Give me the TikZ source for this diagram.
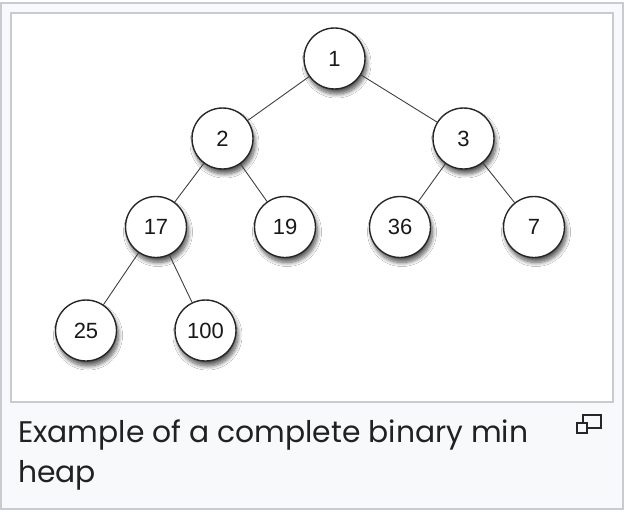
\documentclass[tikz,border=0pt]{standalone}
\usepackage{fontspec}
\setmainfont{Liberation Sans}
\newfontfamily\capfont{Poppins}
\usetikzlibrary{shadows.blur}
\definecolor{bordergray}{HTML}{C8CCD1}
\definecolor{capbg}{HTML}{F8F9FA}
\definecolor{ink}{HTML}{202122}
\begin{document}
\begin{tikzpicture}[x=1pt,y=-1pt,
  heapnode/.style={circle, draw=black!85, line width=1.4pt, fill=white,
    minimum size=61pt, inner sep=0pt, font=\fontsize{22}{22}\selectfont, text=black!90,
    blur shadow={shadow xshift=2pt, shadow yshift=-5pt, shadow blur radius=4pt,
      shadow blur steps=10, shadow opacity=65}},
  heapedge/.style={draw=black!75, line width=0.9pt},
  captext/.style={anchor=base west, inner sep=0pt, text=ink,
    font=\capfont\fontsize{29.8}{29.8}\selectfont},
  iconbox/.style={draw=black!85, line width=1.5pt, fill=capbg}]
\useasboundingbox (0,0) rectangle (628,516);
\fill[white] (0,0) rectangle (628,516);
\draw[bordergray, fill=capbg, line width=2pt] (1,3) rectangle (623,509);
\draw[bordergray, fill=white, line width=2pt] (11,13) rectangle (613,402);

\node[heapnode] (n1) at (334.5,58.5) {1};
\node[heapnode] (n2) at (222.5,138.5) {2};
\node[heapnode] (n3) at (463.5,138.5) {3};
\node[heapnode] (n17) at (156,227) {17};
\node[heapnode] (n19) at (285,227) {19};
\node[heapnode] (n36) at (400,227) {36};
\node[heapnode] (n7) at (534,227) {7};
\node[heapnode] (n25) at (86,330.5) {25};
\node[heapnode] (n100) at (205.5,330.5) {100};

\draw[heapedge] (n1) -- (n2);
\draw[heapedge] (n1) -- (n3);
\draw[heapedge] (n2) -- (n17);
\draw[heapedge] (n2) -- (n19);
\draw[heapedge] (n3) -- (n36);
\draw[heapedge] (n3) -- (n7);
\draw[heapedge] (n17) -- (n25);
\draw[heapedge] (n17) -- (n100);

\node[captext] (cap1) at (18,442) {Example of a complete binary min};
\node[captext] (cap2) at (18,482) {heap};

\draw[iconbox] (583,415) rectangle (601,428);
\draw[iconbox] (577,423) rectangle (587,433);
\end{tikzpicture}
\end{document}
